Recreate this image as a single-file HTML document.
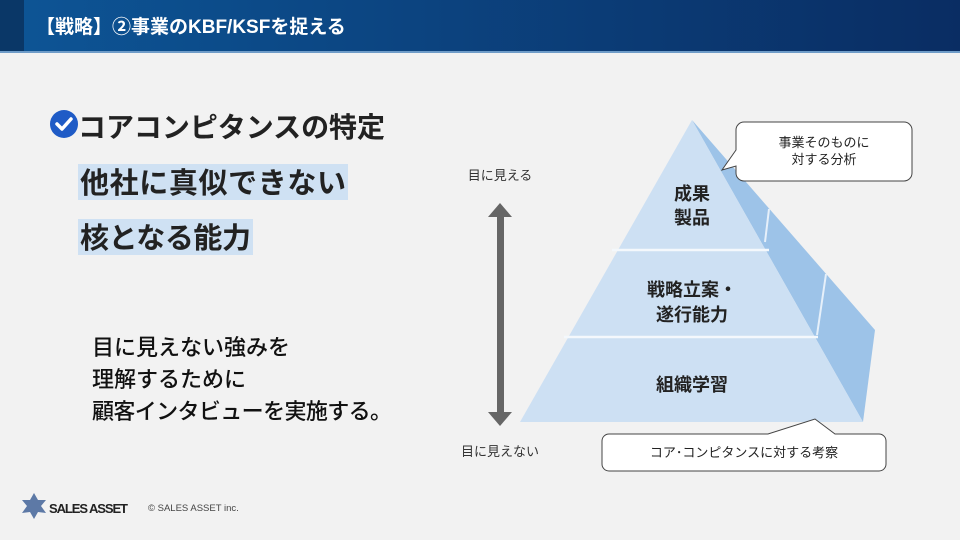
<!DOCTYPE html>
<html><head><meta charset="utf-8"><style>
body{margin:0;width:960px;height:540px;overflow:hidden;background:#f2f2f2;font-family:"Liberation Sans","Noto Sans CJK JP",sans-serif}
</style></head><body>
<svg width="960" height="540" viewBox="0 0 960 540" xmlns="http://www.w3.org/2000/svg" style="position:absolute;left:0;top:0;font-family:'Liberation Sans','Noto Sans CJK JP',sans-serif">
<defs><linearGradient id="hg" x1="0" x2="1" y1="0" y2="0"><stop offset="0" stop-color="#0d5596"/><stop offset="1" stop-color="#0a2d63"/></linearGradient></defs>
<rect x="0" y="0" width="960" height="52" fill="url(#hg)"/>
<rect x="0" y="0" width="24" height="52" fill="#0a3767"/>
<rect x="0" y="51" width="960" height="2" fill="#6f9cc8"/>
<text x="36" y="33" font-size="19" font-weight="bold" fill="#fff">【戦略】②事業のKBF/KSFを捉える</text>

<circle cx="64" cy="124" r="14" fill="#1f5bc6"/>
<path d="M57 124 L62 129 L71 119" stroke="#fff" stroke-width="3.5" fill="none" stroke-linecap="round" stroke-linejoin="round"/>
<text x="78" y="137" font-size="28" font-weight="bold" fill="#222" textLength="307">コアコンピタンスの特定</text>
<rect x="78" y="164" width="270" height="36" fill="#cfe1f3"/>
<text x="80" y="193" font-size="29" font-weight="bold" fill="#222" textLength="266">他社に真似できない</text>
<rect x="78" y="219" width="175" height="36" fill="#cfe1f3"/>
<text x="80" y="248" font-size="29" font-weight="bold" fill="#222" textLength="171">核となる能力</text>
<g font-size="22" fill="#111" font-weight="500">
<text x="92" y="355">目に見えない強みを</text>
<text x="92" y="387">理解するために</text>
<text x="92" y="419" textLength="300">顧客インタビューを実施する。</text>
</g>

<rect x="497" y="215" width="7" height="200" fill="#666"/>
<polygon points="500,203 512,217 488,217" fill="#666"/>
<polygon points="500,426 512,412 488,412" fill="#666"/>
<text x="500" y="180" font-size="13" fill="#333" text-anchor="middle">目に見える</text>
<text x="500" y="456" font-size="13" fill="#333" text-anchor="middle">目に見えない</text>

<polygon points="692,120 875,330 863,422" fill="#9dc3e8"/>
<line x1="765" y1="242" x2="769" y2="209" stroke="#e6f0fa" stroke-width="2"/>
<line x1="817" y1="335" x2="826" y2="274" stroke="#e6f0fa" stroke-width="2"/>
<polygon points="692,120 863,422 520,422" fill="#cde0f3"/>
<line x1="612" y1="250" x2="769" y2="250" stroke="#f4f8fc" stroke-width="2.5"/>
<line x1="564" y1="337" x2="818" y2="337" stroke="#f4f8fc" stroke-width="2.5"/>
<g font-size="18" font-weight="bold" fill="#222" text-anchor="middle">
<text x="692" y="200">成果</text><text x="692" y="224">製品</text>
<text x="692" y="296">戦略立案・</text><text x="692" y="321">遂行能力</text>
<text x="692" y="391">組織学習</text>
</g>

<path d="M744 122 H904 a8 8 0 0 1 8 8 V173 a8 8 0 0 1 -8 8 H744 a8 8 0 0 1 -8 -8 V166 L722 170 L736 150 V130 a8 8 0 0 1 8 -8 Z" fill="#fff" stroke="#444" stroke-width="1"/>
<text x="824" y="147" font-size="13" fill="#222" text-anchor="middle">事業そのものに</text>
<text x="824" y="164" font-size="13" fill="#222" text-anchor="middle">対する分析</text>
<path d="M609 434 H768 L815 419 L835 434 H879 a7 7 0 0 1 7 7 V464 a7 7 0 0 1 -7 7 H609 a7 7 0 0 1 -7 -7 V441 a7 7 0 0 1 7 -7 Z" fill="#fff" stroke="#444" stroke-width="1"/>
<text x="744" y="457" font-size="13" fill="#222" text-anchor="middle">コア･コンピタンスに対する考察</text>

<polygon points="34,493 38,500 46,500 41,506 46,513 38,512 34,519 30,512 22,513 27,506 22,500 30,500" fill="#5d79a6"/>
<text x="49" y="513" font-size="13" font-weight="bold" fill="#222" textLength="79">SALES ASSET</text>
<text x="148" y="511" font-size="9.5" fill="#444">© SALES ASSET inc.</text>
</svg>
</body></html>
